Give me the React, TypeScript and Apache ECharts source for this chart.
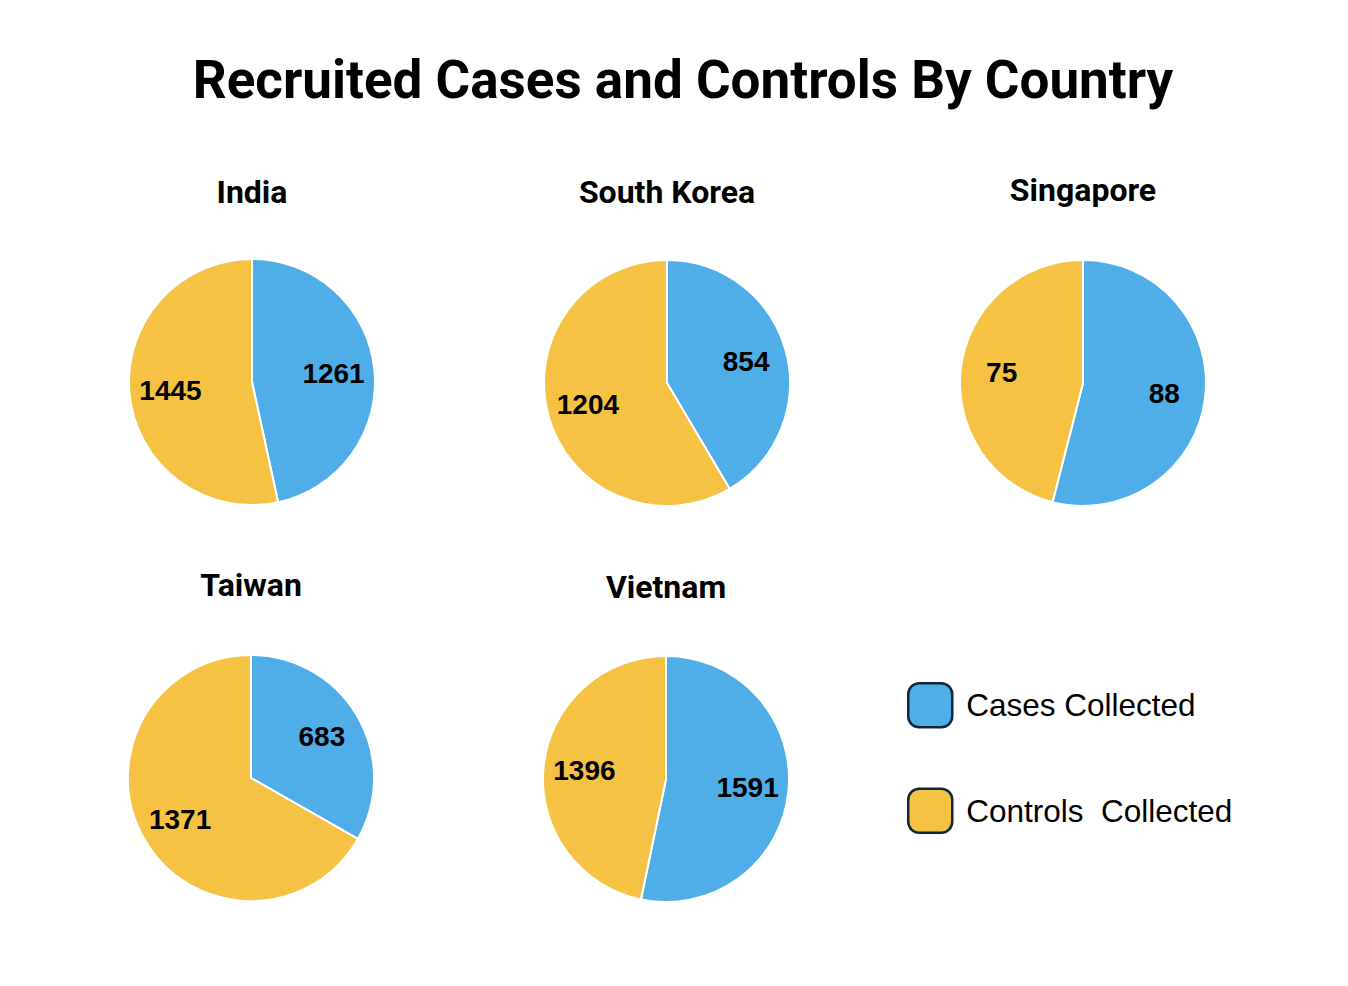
import React, { useEffect, useRef } from "react";
import * as echarts from "echarts";

const countries = ["India", "South Korea", "Singapore", "Taiwan", "Vietnam"];
const casesCollected = [1261, 854, 88, 683, 1591];
const controlsCollected = [1445, 1204, 75, 1371, 1396];
const seriesNames = ["Cases Collected", "Controls  Collected"];

const BLUE = "#4FAEE8";
const YELLOW = "#F5C243";

const layout = [
  { cx: 252, cy: 382, ty: 176 },
  { cx: 667, cy: 383, ty: 176 },
  { cx: 1083, cy: 383, ty: 174 },
  { cx: 251, cy: 778, ty: 569 },
  { cx: 666, cy: 779, ty: 571 },
];

export default function App() {
  const ref = useRef<HTMLDivElement>(null);
  useEffect(() => {
    if (!ref.current) return;
    const chart = echarts.init(ref.current, undefined, { renderer: "svg" });
    const R = 123;
    const pies: any[] = [];
    const labelPies: any[] = [];
    countries.forEach((c, i) => {
      const data = [
        { name: seriesNames[0], value: casesCollected[i], itemStyle: { color: BLUE } },
        { name: seriesNames[1], value: controlsCollected[i], itemStyle: { color: YELLOW } },
      ];
      pies.push({
        type: "pie",
        name: c,
        center: [layout[i].cx, layout[i].cy],
        radius: [0, R],
        startAngle: 90,
        clockwise: true,
        silent: true,
        itemStyle: { borderColor: "#ffffff", borderWidth: 2 },
        label: { show: false },
        labelLine: { show: false },
        emphasis: { disabled: true },
        data,
      });
      labelPies.push({
        type: "pie",
        name: c + " labels",
        center: [layout[i].cx, layout[i].cy],
        radius: [0, 158],
        startAngle: 90,
        clockwise: true,
        silent: true,
        z: 5,
        itemStyle: { color: "rgba(0,0,0,0)", borderWidth: 0 },
        label: {
          show: true,
          position: "inside",
          formatter: "{c}",
          color: "#000",
          fontSize: 28,
          fontWeight: "bold",
          fontFamily: "Liberation Sans, Arial, sans-serif",
        },
        labelLine: { show: false },
        emphasis: { disabled: true },
        data: data.map((d) => ({ name: d.name, value: d.value, itemStyle: { color: "rgba(0,0,0,0)" } })),
      });
    });

    const titles: any[] = [
      {
        text: "Recruited Cases and Controls By Country",
        left: 683,
        top: 53,
        padding: 0,
        textAlign: "center",
        textStyle: {
          fontSize: 53,
          fontWeight: "bold",
          color: "#000",
          fontFamily: "Roboto, Liberation Sans, sans-serif",
        },
      },
    ];
    countries.forEach((c, i) => {
      titles.push({
        text: c,
        left: layout[i].cx,
        top: layout[i].ty,
        padding: 0,
        textAlign: "center",
        textStyle: {
          fontSize: 32,
          fontWeight: "bold",
          color: "#000",
          fontFamily: "Roboto, Liberation Sans, sans-serif",
        },
      });
    });

    chart.setOption({
      animation: false,
      backgroundColor: "#ffffff",
      title: titles,
      legend: {
        orient: "vertical",
        left: 907,
        top: 682,
        padding: 0,
        itemWidth: 44,
        itemHeight: 44,
        itemGap: 59,
        icon: "roundRect",
        selectedMode: false,
        data: seriesNames,
        itemStyle: { borderColor: "#10273A", borderWidth: 2.5 },
        textStyle: {
          fontSize: 31.5,
          color: "#000",
          fontFamily: "Liberation Sans, Arial, sans-serif",
          padding: [0, 0, 0, 9],
        },
      },
      series: [...pies, ...labelPies],
    });
    return () => chart.dispose();
  }, []);
  return (
    <div
      ref={ref}
      style={{ position: "fixed", left: 0, top: 0, width: 1348, height: 986 }}
    />
  );
}
